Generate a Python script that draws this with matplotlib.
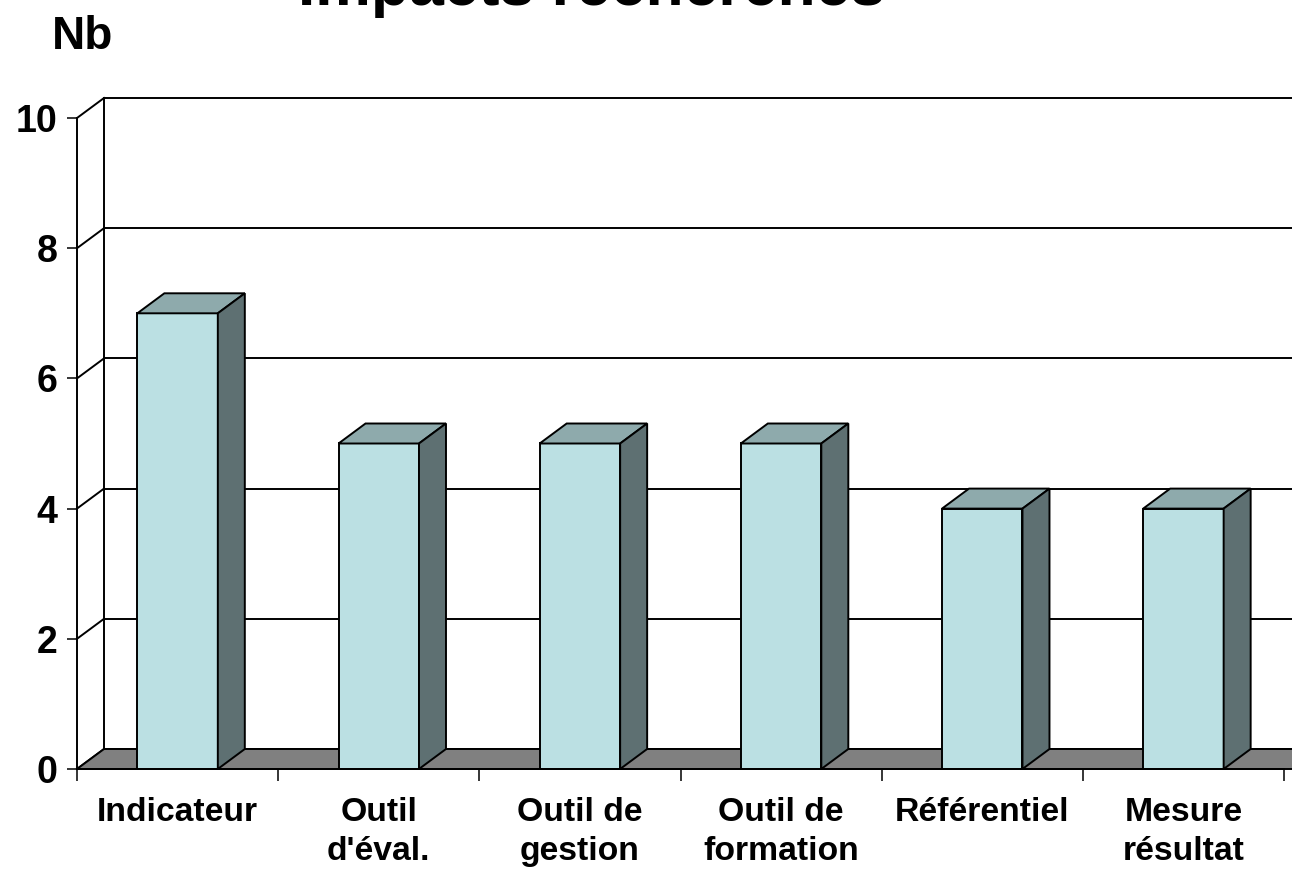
import matplotlib
matplotlib.use("Agg")
import matplotlib.pyplot as plt
from matplotlib.patches import Polygon

plt.rcParams['font.family'] = ['Liberation Sans', 'DejaVu Sans']

# ---- data ----
categories = ["Indicateur", "Outil\nd'éval.", "Outil de\ngestion",
              "Outil de\nformation", "Référentiel", "Mesure\nrésultat"]
values = [7, 5, 5, 5, 4, 4]
yticks = [0, 2, 4, 6, 8, 10]
ytick_labels = ["0", "2", "4", "6", "8", "10"]
title = "Impacts recherchés"
ylabel = "Nb"

# ---- style ----
W, H = 1292, 871
front_col = "#BBE0E3"
top_col = "#8EAAAC"
side_col = "#5E7072"
floor_col = "#808080"
lw = 1.4

fig = plt.figure(figsize=(W / 100, H / 100), dpi=100)
x0, x1 = 77, 1284
y0, y1 = 769, 118
ax = fig.add_axes([x0 / W, (H - y0) / H, (x1 - x0) / W, (y0 - y1) / H])
n = len(categories)
ax.set_xlim(0, n)
ax.set_ylim(0, 10)
ax.patch.set_visible(False)

px_per_cat = (x1 - x0) / n
px_per_unit = (y0 - y1) / 10
DX = 27 / px_per_cat
DY = 20 / px_per_unit

# back wall gridlines and side wall diagonals
for v in yticks:
    ax.plot([DX, n + DX + 1], [v + DY, v + DY], color="black", lw=lw,
            clip_on=False, zorder=1, solid_capstyle="butt")
    ax.plot([0, DX], [v, v + DY], color="black", lw=lw, clip_on=False, zorder=1)
ax.plot([DX, DX], [DY, 10 + DY], color="black", lw=lw, clip_on=False, zorder=1)

# floor
floor = Polygon([(0, 0), (n + 0.2, 0), (n + 0.2 + DX, DY), (DX, DY)],
                closed=True, facecolor=floor_col, edgecolor="black", lw=lw,
                clip_on=False, zorder=2)
ax.add_patch(floor)

# bars
centers = [i + 0.5 for i in range(n)]
bw = 0.4
ax.bar(centers, values, width=bw, color=front_col, edgecolor="black",
       linewidth=lw, zorder=4, clip_on=False)
for c, v in zip(centers, values):
    l, r = c - bw / 2, c + bw / 2
    top = Polygon([(l, v), (r, v), (r + DX, v + DY), (l + DX, v + DY)],
                  closed=True, facecolor=top_col, edgecolor="black", lw=lw,
                  clip_on=False, zorder=4)
    side = Polygon([(r, 0), (r + DX, DY), (r + DX, v + DY), (r, v)],
                   closed=True, facecolor=side_col, edgecolor="black", lw=lw,
                   clip_on=False, zorder=4)
    ax.add_patch(top)
    ax.add_patch(side)

# axes
for s in ["top", "right"]:
    ax.spines[s].set_visible(False)
ax.spines["left"].set_linewidth(lw)
ax.spines["bottom"].set_linewidth(lw)
ax.spines["left"].set_zorder(5)
ax.spines["bottom"].set_zorder(5)

ax.set_yticks(yticks)
ax.set_yticklabels(ytick_labels, fontsize=27, fontweight="bold")
ax.tick_params(axis="y", length=7.2, width=1.1, pad=7)

ax.set_xticks(list(range(n + 1)))
ax.set_xticklabels([""] * (n + 1))
ax.set_xticks(centers, minor=True)
ax.set_xticklabels(categories, minor=True, fontsize=24.3, fontweight="bold",
                   linespacing=1.3)
ax.tick_params(axis="x", which="major", length=8.6, width=1.1)
ax.tick_params(axis="x", which="minor", length=0, pad=20.5)

fig.text(592 / W, 1 - 4.5 / H, title, ha="center", va="baseline",
         fontsize=45, fontweight="bold")
fig.text(52 / W, 1 - 49 / H, ylabel, ha="left", va="baseline",
         fontsize=33, fontweight="bold")

fig.savefig("out.png", dpi=100)
